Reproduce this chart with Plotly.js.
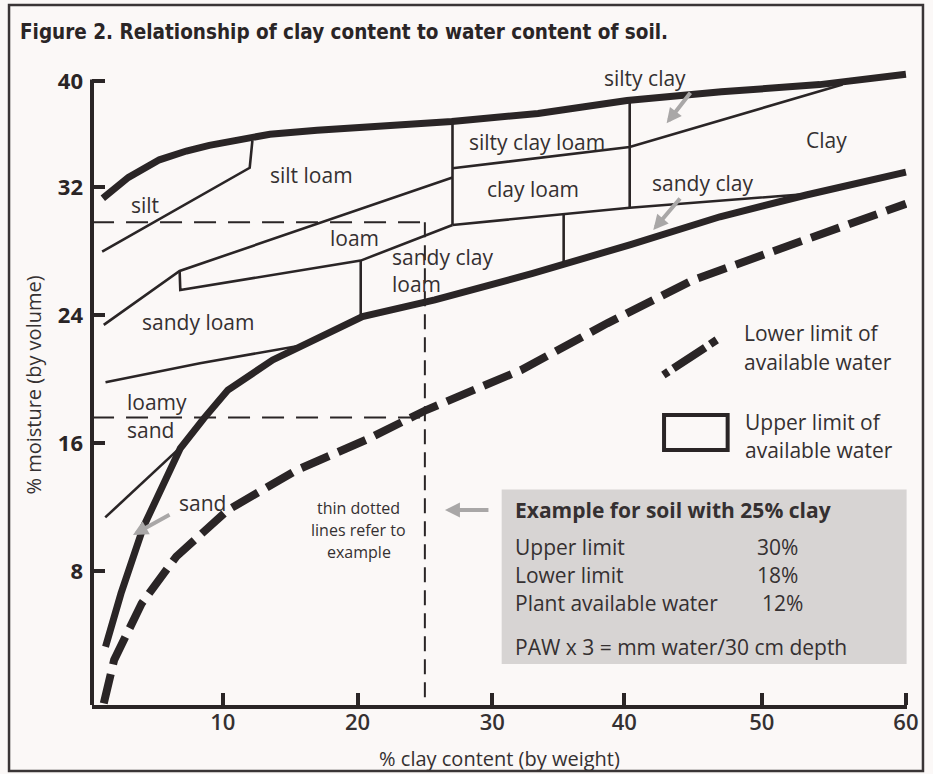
<!DOCTYPE html>
<html>
<head>
<meta charset="utf-8">
<script src="https://cdn.plot.ly/plotly-3.0.1.min.js"></script>
<style>
  html, body { margin: 0; padding: 0; background: #fbf8f7; }
  #chart { width: 933px; height: 774px; }
</style>
</head>
<body>
<div id="chart"></div>
<script>
// ---------- data (% clay by weight vs % moisture by volume) ----------
// Upper limit of available water: upper (silty) boundary
const upperTopClay  = [1.1, 3.0, 5.3, 7.3, 9.0, 11.5, 13.5, 17, 21, 27, 33.4, 40, 47, 54.3, 60.7];
const upperTopMoist = [31.3, 32.6, 33.7, 34.25, 34.6, 35.0, 35.3, 35.55, 35.75, 36.1, 36.6, 37.4, 37.95, 38.4, 39.05];
// Upper limit of available water: lower (sandy) boundary
const upperLowClay  = [1.3, 2.45, 4.12, 5.5, 6.85, 8.6, 10.38, 13.71, 16.5, 20.37, 25.74, 33, 40.27, 46.9, 53.3, 60.7];
const upperLowMoist = [3.27, 6.6, 10.77, 13.3, 15.67, 17.54, 19.31, 21.19, 22.3, 23.9, 24.94, 26.6, 28.4, 30.14, 31.5, 32.93];
// Lower limit of available water
const lowerLimClay  = [1.17, 1.94, 3.99, 6.55, 10.38, 15.5, 20.62, 25.1, 32.14, 38.53, 44.9, 52, 60.7];
const lowerLimMoist = [-0.27, 2.44, 5.98, 8.9, 11.81, 14.31, 16.19, 18.06, 20.56, 23.48, 26.19, 28.35, 30.95];

// Texture class boundaries (thin lines)
const siltEdgeClay   = [1.05, 12.0, 12.2];
const siltEdgeMoist  = [27.96, 33.2, 34.9];
const loamTopClay    = [1.17, 6.8, 27.05];
const loamTopMoist   = [23.38, 26.75, 32.6];
const loamLowClay    = [6.8, 6.85, 20.24, 27.05];
const loamLowMoist   = [26.75, 25.56, 27.4, 29.63];
const clayLoamLowClay  = [27.05, 35.3, 40.2, 53.1];
const clayLoamLowMoist = [29.63, 30.3, 30.7, 31.55];
const siltyClayLoamLowClay  = [27.05, 40.2, 56.0];
const siltyClayLoamLowMoist = [33.17, 34.5, 38.4];
const div27Clay  = [27.05, 27.05];  const div27Moist = [36.0, 29.63];
const div20Clay  = [20.24, 20.24];  const div20Moist = [27.4, 23.9];
const div35Clay  = [35.3, 35.3];    const div35Moist = [30.3, 27.2];
const div40Clay  = [40.2, 40.2];    const div40Moist = [37.3, 30.7];
const sandyLoamLowClay  = [1.3, 8.31, 15.5];
const sandyLoamLowMoist = [19.8, 20.98, 22.05];
const loamySandLowClay  = [1.28, 6.7];
const loamySandLowMoist = [11.35, 15.6];

// Example: soil with 25% clay
const exampleClay  = 25;
const exampleUpper = 29.8;
const exampleLower = 17.6;
const exampleLabels = ['Upper limit', 'Lower limit', 'Plant available water'];
const exampleValues = [30, 18, 12];

// Axis ticks
const xTickVals = [10, 20, 30, 39.8, 50, 60.7];
const xTickText = ['10', '20', '30', '40', '50', '60'];
const yTickVals = [8, 16, 24, 32, 38.6];
const yTickText = ['8', '16', '24', '32', '40'];

// ---------- styles ----------
const INK = '#2a2526';
const TXT = '#353031';
const BG = '#fbf8f7';
const GREY_ARROW = '#a9a7a7';
const BODY = "'Open Sans', 'Noto Sans', sans-serif";
const NARROW = "'Liberation Sans Narrow', 'DejaVu Sans Condensed', 'Open Sans', sans-serif";

function ln(x, y, w, dash) {
  return { type: 'scatter', mode: 'lines', x: x, y: y,
    line: { color: INK, width: w, dash: dash || 'solid', shape: 'linear' },
    hoverinfo: 'skip', showlegend: false };
}

const traces = [
  ln(lowerLimClay, lowerLimMoist, 8, '30px,10px'),
  ln(siltEdgeClay, siltEdgeMoist, 2.6),
  ln(loamTopClay, loamTopMoist, 2.6),
  ln(loamLowClay, loamLowMoist, 2.6),
  ln(clayLoamLowClay, clayLoamLowMoist, 2.6),
  ln(siltyClayLoamLowClay, siltyClayLoamLowMoist, 2.6),
  ln(div27Clay, div27Moist, 2.6),
  ln(div20Clay, div20Moist, 2.6),
  ln(div35Clay, div35Moist, 2.6),
  ln(div40Clay, div40Moist, 2.6),
  ln(sandyLoamLowClay, sandyLoamLowMoist, 2.6),
  ln(loamySandLowClay, loamySandLowMoist, 2.6),
  ln(upperTopClay, upperTopMoist, 7),
  ln(upperLowClay, upperLowMoist, 7),
  // example guide lines
  ln([0.3, exampleClay], [exampleUpper, exampleUpper], 2, '22px,12px'),
  ln([0.3, exampleClay], [exampleLower, exampleLower], 2, '22px,12px'),
  ln([exampleClay, exampleClay], [exampleUpper, -0.4], 2, '15px,8px')
];

function lab(text, x, y, opts) {
  return Object.assign({ text: text, x: x, y: y, xref: 'x', yref: 'y', showarrow: false,
    font: { family: BODY, size: 21, color: TXT }, xanchor: 'center', yanchor: 'middle' }, opts || {});
}
function arrow(x, y, ax, ay) {
  return { text: '', x: x, y: y, xref: 'x', yref: 'y', ax: ax, ay: ay, showarrow: true,
    arrowhead: 2, arrowsize: 0.75, arrowwidth: 4, arrowcolor: GREY_ARROW, standoff: 0 };
}

const annotations = [
  lab('silt', 4.23, 30.9),
  lab('silt loam', 16.62, 32.75),
  lab('silty clay loam', 33.32, 34.83),
  lab('clay loam', 33.02, 31.86),
  lab('loam', 19.78, 28.79),
  lab('sandy clay<br>loam', 22.41, 26.76, { xanchor: 'left', align: 'left' }),
  lab('sandy loam', 8.16, 23.58),
  lab('loamy', 2.71, 18.58, { xanchor: 'left' }),
  lab('sand', 2.71, 16.81, { xanchor: 'left' }),
  lab('sand', 8.46, 12.23),
  lab('silty clay', 41.34, 38.79),
  lab('Clay', 54.77, 34.94),
  lab('sandy clay', 45.6, 32.23),
  lab('thin dotted', 20.11, 11.94, { font: { family: BODY, size: 16, color: TXT } }),
  lab('lines refer to', 20.11, 10.56, { font: { family: BODY, size: 16, color: TXT } }),
  lab('example', 20.11, 9.21, { font: { family: BODY, size: 16, color: TXT } }),
  // legend
  lab('Lower limit of', 48.51, 22.86, { xanchor: 'left' }),
  lab('available water', 48.51, 21.08, { xanchor: 'left' }),
  lab('Upper limit of', 48.63, 17.33, { xanchor: 'left' }),
  lab('available water', 48.63, 15.56, { xanchor: 'left' }),
  // example box
  lab('Example for soil with ' + exampleClay + '% clay', 31.52, 11.81,
      { xanchor: 'left', font: { family: BODY, size: 21, color: TXT, weight: 700 } }),
  lab(exampleLabels[0], 31.52, 9.52, { xanchor: 'left' }),
  lab(exampleLabels[1], 31.52, 7.75, { xanchor: 'left' }),
  lab(exampleLabels[2], 31.52, 5.98, { xanchor: 'left' }),
  lab(exampleValues[0] + '%', 49.5, 9.52, { xanchor: 'left' }),
  lab(exampleValues[1] + '%', 49.5, 7.75, { xanchor: 'left' }),
  lab(exampleValues[2] + '%', 49.87, 5.98, { xanchor: 'left' }),
  lab('PAW x 3 = mm water/30 cm depth', 31.52, 3.27, { xanchor: 'left' }),
  // grey arrows
  arrow(42.94, 35.98, 25, -32),
  arrow(41.95, 29.31, 28, -33),
  arrow(3.34, 10.25, 38, -21),
  arrow(26.49, 11.81, 45, 0)
];

const shapes = [
  // outer frame
  { type: 'rect', xref: 'paper', yref: 'paper', x0: -0.1018, x1: 1.0196, y0: -0.1031, y1: 1.0938,
    line: { color: '#3a3536', width: 2.5 }, fillcolor: 'rgba(0,0,0,0)', layer: 'below' },
  // example box
  { type: 'rect', xref: 'x', yref: 'y', x0: 30.7, x1: 60.75, y0: 2.19, y1: 13.1,
    line: { width: 0 }, fillcolor: '#d7d4d3', layer: 'below' },
  // left axis line
  { type: 'line', xref: 'paper', yref: 'y', x0: 0, x1: 0, y0: -0.45, y1: 38.72,
    line: { color: INK, width: 4 } },
  // legend symbols
  { type: 'line', xref: 'x', yref: 'y', x0: 42.7, y0: 20.25, x1: 46.66, y1: 22.44,
    line: { color: INK, width: 8, dash: '6px,6px,38px,6px,8px,100px' } },
  { type: 'rect', xref: 'x', yref: 'y', x0: 42.75, x1: 47.47, y0: 15.56, y1: 17.75,
    line: { color: INK, width: 4 }, fillcolor: 'rgba(0,0,0,0)' }
];

const layout = {
  width: 933, height: 774,
  paper_bgcolor: BG, plot_bgcolor: BG,
  margin: { l: 92, r: 26, t: 65, b: 69, pad: 0 },
  showlegend: false,
  title: {
    text: 'Figure 2. Relationship of clay content to water content of soil.',
    x: 20 / 933, xanchor: 'left', xref: 'container',
    y: 1 - 31.5 / 774, yanchor: 'middle', yref: 'container',
    font: { family: NARROW, size: 20.5, color: '#2a2526', weight: 700 }
  },
  xaxis: {
    range: [0.297, 60.78], showgrid: false, zeroline: false,
    showline: true, linecolor: INK, linewidth: 4,
    ticks: 'inside', ticklen: 12, tickwidth: 4, tickcolor: INK,
    tickvals: xTickVals, ticktext: xTickText, ticklabelstandoff: -5,
    tickfont: { family: BODY, size: 22, color: TXT, weight: 600 },
    title: { text: '% clay content (by weight)', standoff: 18,
      font: { family: BODY, size: 20, color: TXT } },
    fixedrange: true
  },
  yaxis: {
    range: [-0.375, 39.625], showgrid: false, zeroline: false,
    showline: false,
    ticks: 'inside', ticklen: 13, tickwidth: 4, tickcolor: INK,
    tickvals: yTickVals, ticktext: yTickText, ticklabelstandoff: 8,
    tickfont: { family: BODY, size: 22, color: '#2a2526', weight: 700 },
    title: { text: '% moisture (by volume)', standoff: 10,
      font: { family: BODY, size: 20, color: TXT } },
    fixedrange: true
  },
  shapes: shapes,
  annotations: annotations
};

Plotly.newPlot('chart', traces, layout, { displayModeBar: false, staticPlot: true });
</script>
</body>
</html>
